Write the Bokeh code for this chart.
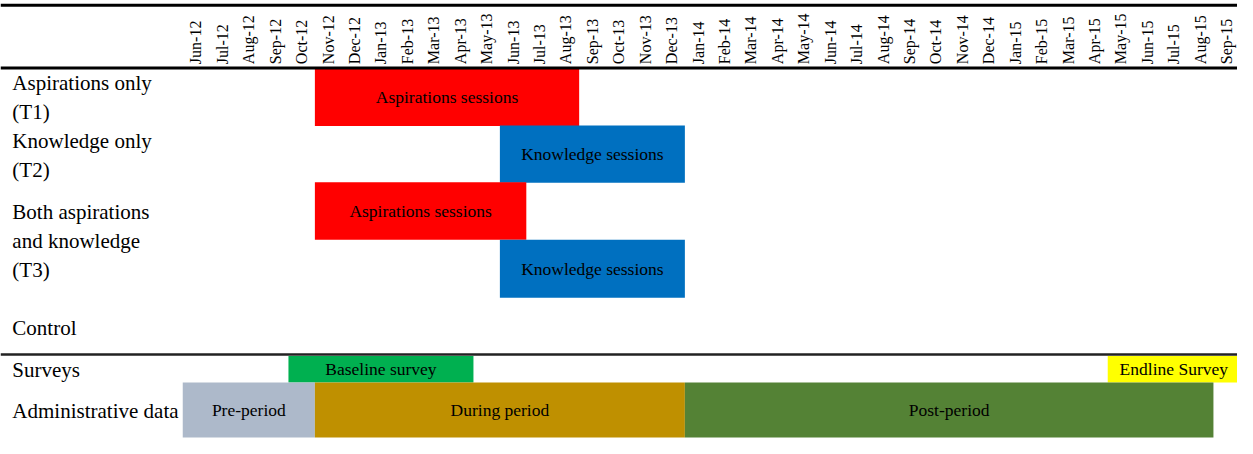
import math
from bokeh.plotting import figure
from bokeh.models import ColumnDataSource, Range1d, Span
from bokeh.core.properties import value
from bokeh.embed import file_html
from bokeh.resources import INLINE

# ---------------- data ----------------
months = ["Jun-12", "Jul-12", "Aug-12", "Sep-12", "Oct-12", "Nov-12", "Dec-12",
          "Jan-13", "Feb-13", "Mar-13", "Apr-13", "May-13", "Jun-13", "Jul-13",
          "Aug-13", "Sep-13", "Oct-13", "Nov-13", "Dec-13",
          "Jan-14", "Feb-14", "Mar-14", "Apr-14", "May-14", "Jun-14", "Jul-14",
          "Aug-14", "Sep-14", "Oct-14", "Nov-14", "Dec-14",
          "Jan-15", "Feb-15", "Mar-15", "Apr-15", "May-15", "Jun-15", "Jul-15",
          "Aug-15", "Sep-15"]

row_keys = ["T1", "T2", "T3", "Control", "Surveys", "Admin"]
row_label_lines = [["Aspirations only", "(T1)"], ["Knowledge only", "(T2)"],
                   ["Both aspirations", "and knowledge", "(T3)"], ["Control"],
                   ["Surveys"], ["Administrative data"]]

bar_rows = ["T1", "T2", "T3a", "T3b", "Surveys", "Surveys", "Admin", "Admin", "Admin"]
bar_labels = ["Aspirations sessions", "Knowledge sessions", "Aspirations sessions",
              "Knowledge sessions", "Baseline survey", "Endline Survey",
              "Pre-period", "During period", "Post-period"]
bar_start = ["Nov-12", "Jun-13", "Nov-12", "Jun-13", "Oct-12", "May-15",
             "Jun-12", "Nov-12", "Jan-14"]
bar_end = ["Aug-13", "Dec-13", "Jun-13", "Dec-13", "Apr-13", "Sep-15",
           "Oct-12", "Dec-13", "Aug-15"]
bar_colors = ["#FF0000", "#0070C0", "#FF0000", "#0070C0", "#00B050", "#FFFF00",
              "#ADB9CA", "#BF9000", "#548235"]

# ---------------- layout (vertical bands, in layout units from top) ----------------
band = {
    "T1": (70, 130), "T2": (129.5, 189), "T3a": (188.5, 248), "T3b": (248, 308),
    "T3": (189, 308), "Control": (310, 367), "Surveys": (368.5, 396),
    "Admin": (396, 453),
}
line_gap = 30
top_rule, header_rule, sep_rule = 5, 70, 367
month_label_base = 66

W, H = 1237, 438
SX, SY = W / 1253.0, H / 454.0
ref_m0, ref_mw = 184.6, 26.77
px_per_m = ref_mw * SX
x0 = -(ref_m0 * SX) / px_per_m
x1 = x0 + W / px_per_m

p = figure(width=W, height=H, x_range=Range1d(x0, x1), y_range=Range1d(454, 0),
           output_backend="svg", toolbar_location=None, min_border=0,
           x_axis_location=None, y_axis_location=None, outline_line_color=None)
p.grid.visible = False
p.background_fill_color = "white"
p.border_fill_color = "white"

FONT = value("Liberation Serif")

# bars
idx = {m: i for i, m in enumerate(months)}
left = [idx[s] for s in bar_start]
right = [idx[e] + 1 for e in bar_end]
top = [band[r][0] for r in bar_rows]
bottom = [band[r][1] for r in bar_rows]
src = ColumnDataSource(dict(left=left, right=right, top=top, bottom=bottom,
                            color=bar_colors, label=bar_labels,
                            xc=[(a + b) / 2 for a, b in zip(left, right)],
                            yc=[(a + b) / 2 for a, b in zip(top, bottom)]))
p.quad(left="left", right="right", top="top", bottom="bottom", fill_color="color",
       line_color=None, source=src)
p.text(x="xc", y="yc", text="label", source=src, text_font=FONT,
       text_font_size="17.5px", text_align="center", text_baseline="middle",
       text_color="black")

# month labels (rotated)
msrc = ColumnDataSource(dict(x=[i + 0.5 for i in range(len(months))],
                             y=[month_label_base] * len(months), t=months))
p.text(x="x", y="y", text="t", source=msrc, angle=math.pi / 2, text_font=FONT,
       text_font_size="16px", text_align="left", text_baseline="middle",
       text_color="black")

# row labels (one text per line)
lx, ly, lt = [], [], []
for k, lines in zip(row_keys, row_label_lines):
    c = (band[k][0] + band[k][1]) / 2 + 1
    n = len(lines)
    for j, s in enumerate(lines):
        lx.append(x0)
        ly.append(c + (j - (n - 1) / 2) * line_gap)
        lt.append(s)
lsrc = ColumnDataSource(dict(x=lx, y=ly, t=lt))
p.text(x="x", y="y", text="t", source=lsrc, x_offset=12 * SX, text_font=FONT,
       text_font_size="21px", text_align="left", text_baseline="middle",
       text_color="black")

# rules
for loc, w, c in [(top_rule, 3, "black"), (header_rule, 3, "black"), (sep_rule, 2.5, "#222222")]:
    p.add_layout(Span(location=loc, dimension="width", line_color=c, line_width=w))

open("out.html", "w").write(file_html(p, INLINE))
